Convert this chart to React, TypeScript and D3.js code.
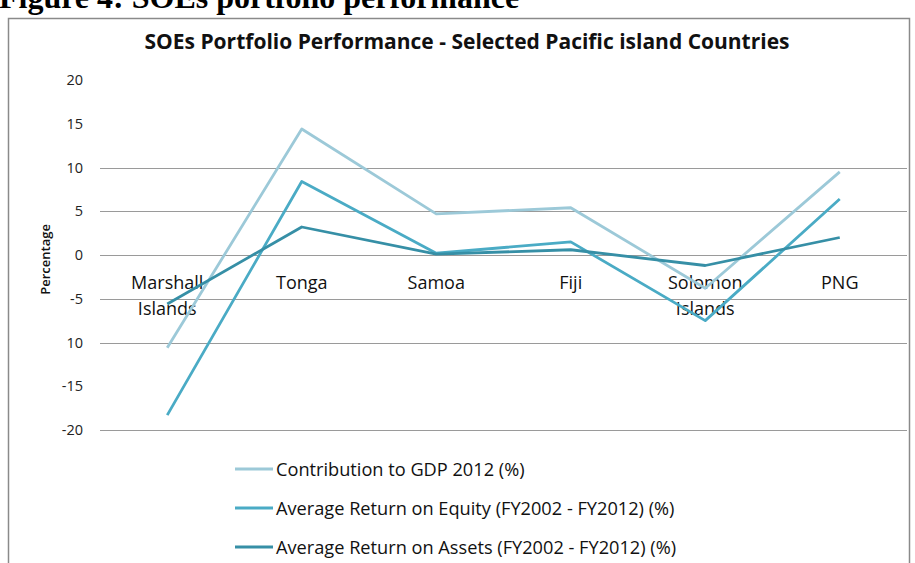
import React, { useEffect, useRef } from 'react';
import * as d3 from 'd3';

// categories (two-line labels split on \n)
const countries = ['Marshall\nIslands', 'Tonga', 'Samoa', 'Fiji', 'Solomon\nIslands', 'PNG'];

// series values (percent)
const contribution = [-10.6, 14.4, 4.7, 5.4, -3.8, 9.5];
const equity = [-18.3, 8.4, 0.2, 1.5, -7.5, 6.4];
const assets = [-5.6, 3.2, 0.1, 0.6, -1.2, 2.0];

const seriesNames = [
  'Contribution to GDP 2012 (%)',
  'Average Return on Equity (FY2002 - FY2012) (%)',
  'Average Return on Assets (FY2002 - FY2012) (%)',
];
const seriesColors = ['#9cc9d8', '#4aabc5', '#368fa6'];

const yTicks = [20, 15, 10, 5, 0, -5, -10, -15, -20];
const tickLabels = ['20', '15', '10', '5', '0', '-5', '10', '-15', '-20'];
// only these gridlines survive in the scan
const gridValues = [10, 5, 0, -5, -10, -20];

const App = () => {
  const ref = useRef<SVGSVGElement>(null);

  useEffect(() => {
    const svg = d3.select(ref.current);
    svg.selectAll('*').remove();

    const x = d3.scaleBand().domain(countries).range([100, 907]);
    const y = d3.scaleLinear().domain([-20, 20]).range([430, 80]);
    const font = '"Open Sans", sans-serif';

    // caption cut off at the top (as in the scan)
    svg
      .append('text')
      .attr('x', -1)
      .attr('y', 8)
      .attr('font-family', '"Liberation Serif", serif')
      .attr('font-weight', 'bold')
      .attr('font-size', 32)
      .text('Figure 4: SOEs portfolio performance');

    // chart frame
    svg
      .append('rect')
      .attr('x', 8.5)
      .attr('y', 18.5)
      .attr('width', 901)
      .attr('height', 600)
      .attr('fill', 'none')
      .attr('stroke', '#8a8a8a')
      .attr('stroke-width', 1.5);

    svg
      .append('text')
      .attr('x', 467)
      .attr('y', 49)
      .attr('text-anchor', 'middle')
      .attr('font-family', font)
      .attr('font-weight', 'bold')
      .attr('font-size', 21)
      .attr('fill', '#111')
      .text('SOEs Portfolio Performance - Selected Pacific island Countries');

    // gridlines
    svg
      .selectAll('.grid')
      .data(gridValues)
      .enter()
      .append('line')
      .attr('x1', 100)
      .attr('x2', 907)
      .attr('y1', d => Math.round(y(d)) + 0.5)
      .attr('y2', d => Math.round(y(d)) + 0.5)
      .attr('stroke', '#9a9a9a')
      .attr('stroke-width', 1.2);

    // y tick labels
    svg
      .selectAll('.ytick')
      .data(yTicks)
      .enter()
      .append('text')
      .attr('x', 83)
      .attr('y', d => y(d) + 5)
      .attr('text-anchor', 'end')
      .attr('font-family', font)
      .attr('font-size', 14.5)
      .attr('fill', '#222')
      .text((d, i) => tickLabels[i]);

    svg
      .append('text')
      .attr('transform', `translate(50,${y(-0.5)}) rotate(-90)`)
      .attr('text-anchor', 'middle')
      .attr('font-family', font)
      .attr('font-weight', 600)
      .attr('font-size', 13)
      .attr('fill', '#111')
      .text('Percentage');

    // category labels
    const cat = svg
      .selectAll('.cat')
      .data(countries)
      .enter()
      .append('text')
      .attr('text-anchor', 'middle')
      .attr('font-family', font)
      .attr('font-size', 18)
      .attr('fill', '#111');
    cat
      .selectAll('tspan')
      .data(d => d.split('\n').map(s => ({ s, c: d })))
      .enter()
      .append('tspan')
      .attr('x', d => (x(d.c) as number) + x.bandwidth() / 2)
      .attr('y', (d, i) => 289 + i * 26)
      .text(d => d.s);

    // lines
    const line = d3
      .line<number>()
      .x((d, i) => (x(countries[i]) as number) + x.bandwidth() / 2)
      .y(d => y(d));

    [contribution, equity, assets].forEach((vals, k) => {
      svg
        .append('path')
        .attr('d', line(vals))
        .attr('fill', 'none')
        .attr('stroke', seriesColors[k])
        .attr('stroke-width', 2.8)
        .attr('stroke-linejoin', 'round');
    });

    // legend
    const leg = svg
      .selectAll('.leg')
      .data(seriesNames)
      .enter()
      .append('g')
      .attr('transform', (d, i) => `translate(235,${469 + i * 39})`);
    leg
      .append('line')
      .attr('x1', 0)
      .attr('x2', 38)
      .attr('stroke', (d, i) => seriesColors[i])
      .attr('stroke-width', 2.8);
    leg
      .append('text')
      .attr('x', 41)
      .attr('y', 7)
      .attr('font-family', font)
      .attr('font-size', 18.2)
      .attr('fill', '#111')
      .text(d => d);
  }, []);

  return (
    <svg
      ref={ref}
      width={915}
      height={563}
      style={{ position: 'absolute', left: 0, top: 0, background: '#fff' }}
    ></svg>
  );
};

export default App;
